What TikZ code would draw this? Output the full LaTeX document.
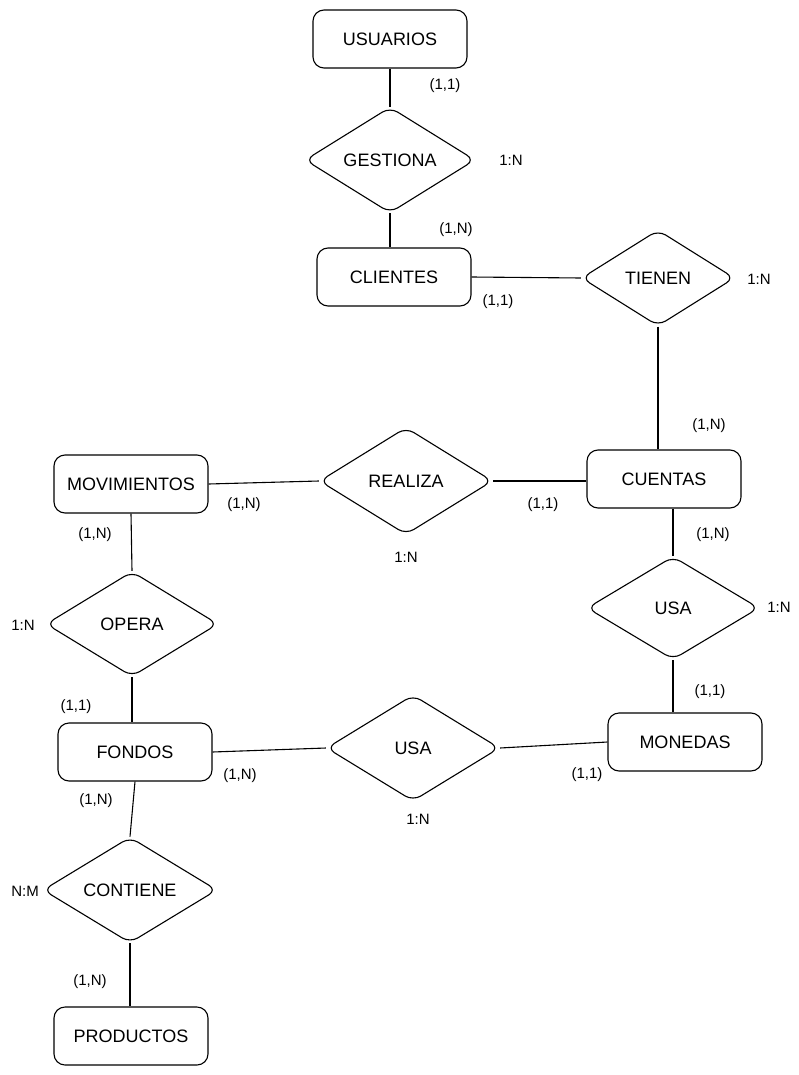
\documentclass[tikz,border=0pt]{standalone}
\usepackage{fontspec}
\setmainfont{Liberation Sans}
\usetikzlibrary{shapes.geometric}
\begin{document}
\begin{tikzpicture}[x=1pt,y=-1pt,
  every node/.style={font=\fontsize{18}{20}\selectfont},
  entity/.style={draw, line width=1.1pt, rounded corners=11pt,
    minimum width=154pt, minimum height=58pt},
  relation/.style={draw, shape=diamond, line width=1.1pt, rounded corners=9pt,
    minimum width=172pt, minimum height=105pt, inner sep=0pt},
  card/.style={font=\fontsize{15}{17}\selectfont},
  link/.style={line width=1.1pt}]
\useasboundingbox (0,0) rectangle (799,1075);

% entities
\node[entity] (usu) at (390,39)  {USUARIOS};
\node[entity] (cli) at (394,277) {CLIENTES};
\node[entity] (cue) at (664,479) {CUENTAS};
\node[entity, inner xsep=2pt] (mov) at (131,484) {MOVIMIENTOS};
\node[entity] (fon) at (135,752) {FONDOS};
\node[entity] (pro) at (131,1036) {PRODUCTOS};
\node[entity] (mon) at (685,742) {MONEDAS};

% relationships
\node[relation, minimum width=170pt] (ges) at (390,160) {GESTIONA};
\node[relation, minimum width=153pt, minimum height=96pt] (tie) at (658,278) {TIENEN};
\node[relation, minimum width=173pt, minimum height=107pt] (rea) at (406,481) {REALIZA};
\node[relation, minimum width=172pt, minimum height=103pt] (usa1) at (673,608) {USA};
\node[relation] (ope) at (132,624) {OPERA};
\node[relation, minimum width=173pt, minimum height=106pt] (usa2) at (413,748) {USA};
\node[relation, minimum width=174pt] (con) at (130,890) {CONTIENE};

% connectors
\draw[link] (usu.south) -- (ges.north);
\draw[link] (ges.south) -- (ges.south |- cli.north);
\draw[link] (cli.east) -- (tie.west);
\draw[link] (tie.south) -- (tie.south |- cue.north);
\draw[link] (mov.east) -- (rea.west);
\draw[link] (rea.east) -- (rea.east -| cue.west);
\draw[link] (usa1.north |- cue.south) -- (usa1.north);
\draw[link] (usa1.south) -- (usa1.south |- mon.north);
\draw[link] (mov.south) -- (ope.north);
\draw[link] (ope.south) -- (ope.south |- fon.north);
\draw[link] (fon.east) -- (usa2.west);
\draw[link] (usa2.east) -- (mon.west);
\draw[link] (fon.south) -- (con.north);
\draw[link] (con.south) -- (con.south |- pro.north);

% cardinalities
\node[card] (c1)  at (445,86)  {(1,1)};
\node[card] (c2)  at (511,160) {1:N};
\node[card] (c3)  at (456,230) {(1,N)};
\node[card] (c4)  at (498,302) {(1,1)};
\node[card] (c5)  at (759,279) {1:N};
\node[card] (c6)  at (709,426) {(1,N)};
\node[card] (c7)  at (244,505) {(1,N)};
\node[card] (c8)  at (543,505) {(1,1)};
\node[card] (c9)  at (406,557) {1:N};
\node[card] (c10) at (95,535)  {(1,N)};
\node[card] (c11) at (713,535) {(1,N)};
\node[card] (c12) at (23,625)  {1:N};
\node[card] (c13) at (779,607) {1:N};
\node[card] (c14) at (76,707)  {(1,1)};
\node[card] (c15) at (710,692) {(1,1)};
\node[card] (c16) at (240,776) {(1,N)};
\node[card] (c17) at (587,775) {(1,1)};
\node[card] (c18) at (418,819) {1:N};
\node[card] (c19) at (96,801)  {(1,N)};
\node[card] (c20) at (25,891)  {N:M};
\node[card] (c21) at (90,982)  {(1,N)};
\end{tikzpicture}
\end{document}
